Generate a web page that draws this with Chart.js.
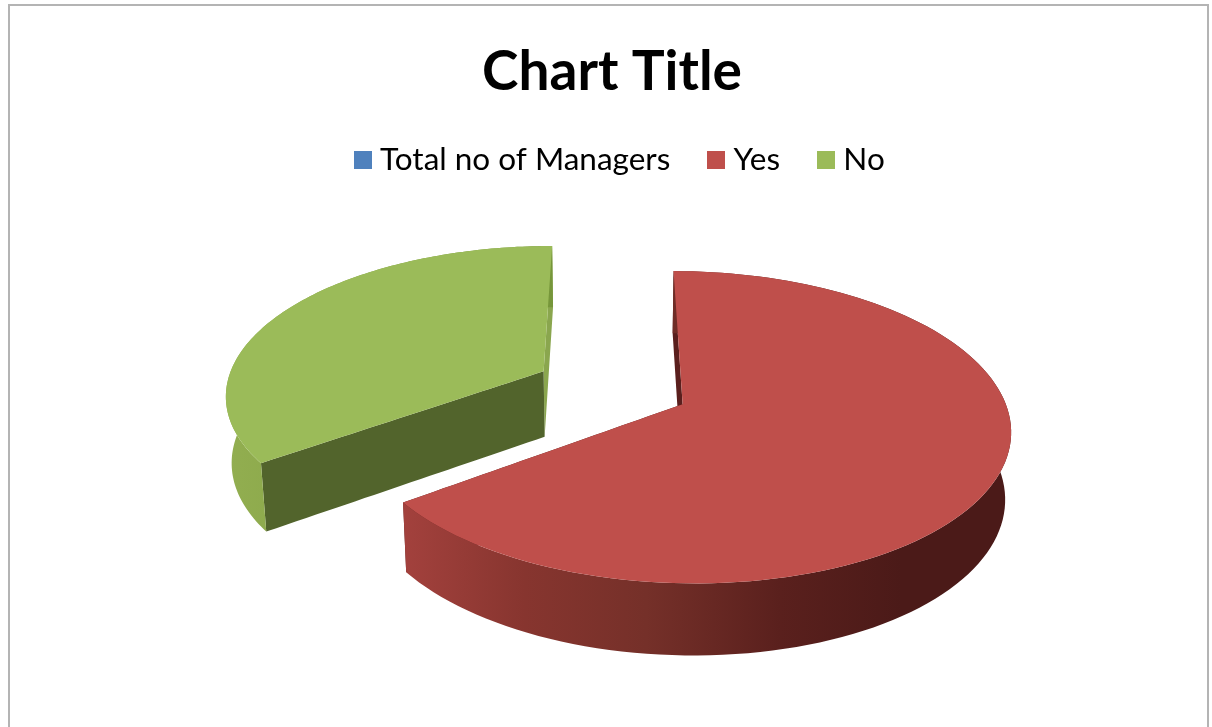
<!DOCTYPE html>
<html>
<head>
<meta charset="utf-8">
<style>
  html, body { margin: 0; background: #fff; width: 1212px; height: 727px; overflow: hidden; }
  #frame { position: absolute; left: 8px; top: 4px; width: 1201px; height: 760px; border: 2px solid #b4b4b4; box-sizing: border-box; }
  canvas { position: absolute; left: 0; top: 0; }
</style>
<script src="https://cdn.jsdelivr.net/npm/chart.js@4"></script>
</head>
<body>
<div id="frame"></div>
<canvas id="chart" width="1212" height="727"></canvas>
<script>
// Survey result shown as an exploded 3D pie
const categories = ['Total no of Managers', 'Yes', 'No'];
const managerCounts = [0, 65, 35];

// Surface colours per category
const topColors = ['#4f81bd', '#bf4f4b', '#9bbb59'];
const cutFaceColors = ['#3a5f8c', '#5a1f1d', '#52642c'];
const farFaceColors = ['#3a5f8c', '#5a1f1d', '#8aa64e'];
const rimStops = [
  [[0, '#3a5f8c'], [1, '#3a5f8c']],
  [[0, '#a3413d'], [0.2, '#87352f'], [0.4, '#753029'], [0.62, '#5a201d'], [0.82, '#4b1a18'], [1, '#4b1a18']],
  [[0, '#92ae50'], [1, '#76963a']]
];

// Perspective of the tilted disc
const tilt = 0.465;
const convergence = 0.145;
const depth = 66;
const floorShrink = 0.985;

function project(wx, wy, R, cx, cy, atFloor) {
  const s = 1 / (1 - convergence * wy / R);
  const px = wx * s * (atFloor ? floorShrink : 1);
  const py = wy * tilt * s + (atFloor ? depth * Math.sqrt(s) : 0);
  return [cx + px, cy + py];
}

function tracePolygon(ctx, pts) {
  ctx.beginPath();
  pts.forEach((p, i) => (i ? ctx.lineTo(p[0], p[1]) : ctx.moveTo(p[0], p[1])));
  ctx.closePath();
}

class Arc3D extends Chart.ArcElement {
  static id = 'arc3d';

  draw(ctx) {
    const { x, y, startAngle, endAngle, outerRadius: R } = this.getProps(['x', 'y', 'startAngle', 'endAngle', 'outerRadius']);
    if (endAngle - startAngle <= 0) return;
    const idx = this.$context ? this.$context.dataIndex : 0;
    const offset = this.options.offset;
    const mid = (startAngle + endAngle) / 2;
    const ox = Math.cos(mid) * offset;
    const oy = Math.sin(mid) * offset;
    const steps = 120;

    const rim = [];
    for (let i = 0; i <= steps; i++) {
      const a = startAngle + (endAngle - startAngle) * i / steps;
      rim.push([ox + Math.cos(a) * R, oy + Math.sin(a) * R]);
    }
    const at = (p, floor) => project(p[0], p[1], R, x, y, floor);
    const apex = [ox, oy];

    // Steps along a straight cut so its perspective edge stays smooth
    const cutPoints = (end) => {
      const pts = [];
      for (let i = 0; i <= 30; i++) {
        const t = i / 30;
        pts.push([apex[0] + (end[0] - apex[0]) * t, apex[1] + (end[1] - apex[1]) * t]);
      }
      return pts;
    };

    ctx.save();
    ctx.lineJoin = 'round';

    // Cut faces, the one further back first
    const faces = [rim[0], rim[steps]].sort((a, b) => a[1] - b[1]);
    faces.forEach((end, i) => {
      const line = cutPoints(end);
      tracePolygon(ctx, line.map(p => at(p, false)).concat(line.slice().reverse().map(p => at(p, true))));
      ctx.fillStyle = i === 0 ? farFaceColors[idx] : cutFaceColors[idx];
      ctx.fill();
    });

    // Outer rim with its shading running left to right
    const front = rim.map(p => at(p, false));
    const floor = rim.map(p => at(p, true));
    const xs = front.map(p => p[0]);
    const grad = ctx.createLinearGradient(Math.min(...xs), 0, Math.max(...xs), 0);
    rimStops[idx].forEach(([stop, colour]) => grad.addColorStop(stop, colour));
    tracePolygon(ctx, front.concat(floor.slice().reverse()));
    ctx.fillStyle = grad;
    ctx.fill();

    // Top surface
    const outline = cutPoints(rim[0]).concat(rim.slice(1, steps), cutPoints(rim[steps]).reverse());
    tracePolygon(ctx, outline.map(p => at(p, false)));
    ctx.fillStyle = this.options.backgroundColor;
    ctx.fill();
    ctx.restore();
  }
}

class Pie3DController extends Chart.PieController {
  static id = 'pie3d';
  static defaults = { ...Chart.PieController.defaults, dataElementType: 'arc3d' };
}
Chart.register(Arc3D, Pie3DController);

// Legend swatch that sits closer to its label than the default box
function swatch(colour) {
  const c = document.createElement('canvas');
  c.width = 18;
  c.height = 18;
  const g = c.getContext('2d');
  g.fillStyle = colour;
  g.fillRect(0, 0, 18, 18);
  return c;
}

// The legend row sits slightly right of the title
const nudgeLegend = {
  id: 'nudgeLegend',
  afterLayout(chart) {
    chart.legend.left += 11;
    chart.legend.right += 11;
  }
};

new Chart(document.getElementById('chart'), {
  type: 'pie3d',
  plugins: [nudgeLegend],
  data: {
    labels: categories,
    datasets: [{
      data: managerCounts,
      backgroundColor: topColors,
      borderWidth: 0,
      offset: [0, 78, 78]
    }]
  },
  options: {
    responsive: false,
    animation: false,
    radius: 318,
    layout: { padding: { left: 12, bottom: 138 } },
    plugins: {
      tooltip: { enabled: false },
      title: {
        display: true,
        text: 'Chart Title',
        color: '#000',
        font: { family: 'Lato', size: 55, weight: 'bold' },
        padding: { top: 39, bottom: -5 }
      },
      legend: {
        position: 'top',
        labels: {
          color: '#454545',
          font: { family: 'Lato', size: 31.5 },
          usePointStyle: true,
          pointStyleWidth: 3,
          boxHeight: 18,
          padding: 44.5,
          generateLabels(chart) {
            return categories.map((text, i) => ({
              text,
              fillStyle: topColors[i],
              strokeStyle: topColors[i],
              lineWidth: 0,
              pointStyle: swatch(topColors[i]),
              hidden: false,
              index: i
            }));
          }
        }
      }
    }
  }
});
</script>
</body>
</html>
